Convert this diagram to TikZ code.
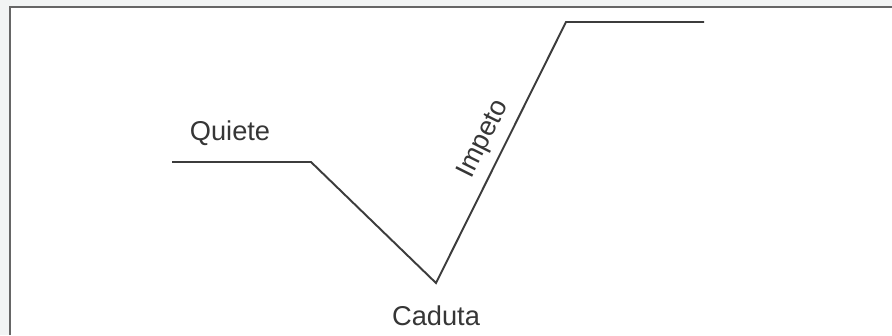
\documentclass[tikz,border=0pt]{standalone}
\usepackage{fontspec}
\setmainfont{Liberation Sans}
\usepackage{xcolor}
\usepackage{tikz}
\definecolor{frameGray} {RGB}{102,102,102}
\definecolor{pageGray}  {RGB}{242,244,244}
\definecolor{inkGray}   {RGB}{ 60, 60, 60}
\begin{document}
\begin{tikzpicture}[
        x=0.02cm, y={(0,-0.02cm)},
        curve/.style={line width=1.1pt, inkGray, line join=miter},
        lbl/.style={font=\fontsize{15.5}{18}\selectfont,
                    text=inkGray!90!black, inner sep=2pt}]
        \useasboundingbox (0,0) rectangle (892,335);
        \fill[pageGray] (0,0) rectangle (892,335);
        \fill[white] (10,7) rectangle (892,335);
        \draw[frameGray, line width=1.2pt] (10,335) -- (10,7) -- (892,7);
        % the path of the curve
        \coordinate (rest0) at (172,162);
        \coordinate (rest1) at (311,162);
        \coordinate (fall)  at (436,283);
        \coordinate (top0)  at (566,22);
        \coordinate (top1)  at (704,22);
        \draw[curve] (rest0) -- (rest1) -- (fall) -- (top0) -- (top1);
        \node[lbl] (quiete) at (230,133) {Quiete};
        \node[lbl, below=11pt] (caduta) at (fall) {Caduta};
        \path (fall) -- (top0)
          node[lbl, sloped, above=3pt, pos=0.515] (impeto) {Impeto};
\end{tikzpicture}
\end{document}
